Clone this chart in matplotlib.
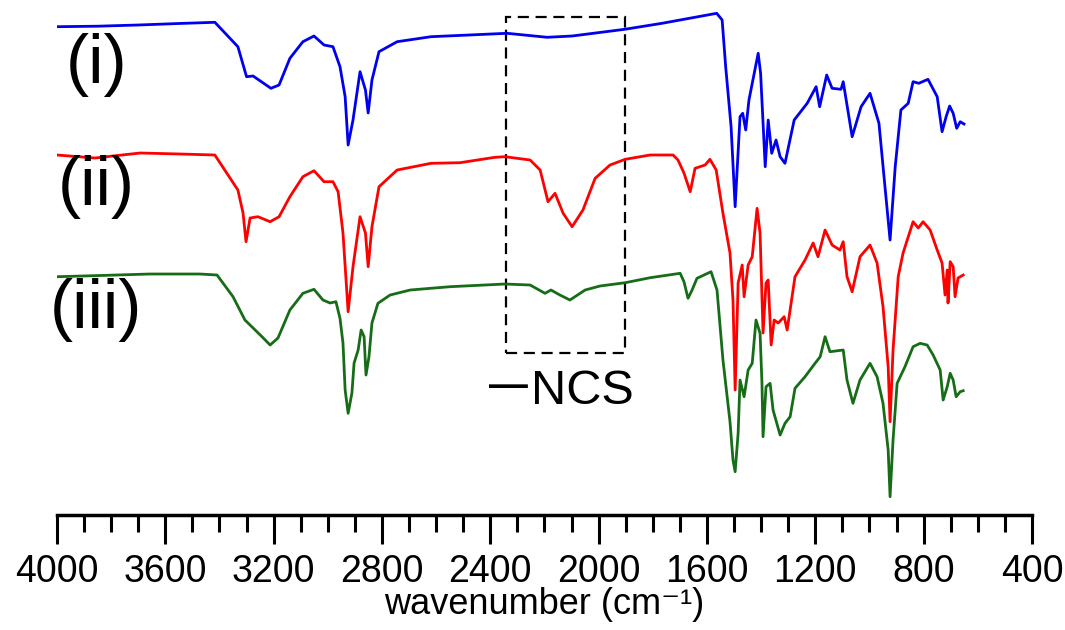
import matplotlib
matplotlib.use("Agg")
import matplotlib.pyplot as plt
from matplotlib.patches import Rectangle
from matplotlib.ticker import MultipleLocator

plt.rcParams['font.family'] = ['Liberation Sans', 'DejaVu Sans']

# Spectrum (i) - wavenumber (cm-1) and stacked intensity (a.u.)
wn_i = [4000, 3850, 3700, 3550, 3417, 3332, 3300, 3276, 3210, 3180, 3140, 3092, 3051, 3014,
        2981, 2955, 2936, 2925, 2907, 2881, 2861, 2851, 2837, 2811, 2744, 2619, 2338, 2190,
        2098, 1904, 1766, 1564, 1544, 1531, 1511, 1496, 1478, 1468, 1457, 1445, 1411, 1402,
        1385, 1374, 1361, 1345, 1330, 1312, 1278, 1230, 1197, 1184, 1158, 1138, 1105, 1097,
        1064, 1031, 998, 965, 944, 924, 905, 884, 857, 839, 818, 784, 750, 732, 717, 704,
        691, 678, 665, 651]
y_i = [488.3, 488.8, 490.0, 491.5, 492.7, 468.3, 438.3, 439.0, 426.7, 430.0, 456.7, 473.3,
       479.0, 470.0, 468.3, 448.3, 418.3, 370.0, 395.0, 443.3, 425.0, 402.0, 435.0, 463.3,
       473.3, 478.3, 481.7, 477.7, 479.0, 485.7, 491.7, 501.7, 495.0, 448.3, 388.3, 308.3,
       398.3, 401.7, 385.0, 415.0, 461.7, 441.7, 348.3, 395.0, 361.7, 375.0, 358.3, 351.7,
       395.0, 411.7, 428.3, 408.3, 440.0, 426.7, 425.7, 433.3, 378.3, 408.3, 421.7, 391.7,
       331.7, 275.0, 348.3, 405.0, 411.7, 433.3, 431.7, 435.7, 418.3, 383.3, 398.3, 409.0,
       401.7, 386.7, 393.3, 391.0]

# Spectrum (ii)
wn_ii = [4000, 3860, 3693, 3546, 3417, 3332, 3313, 3302, 3287, 3258, 3213, 3180, 3140, 3092,
         3051, 3014, 2981, 2962, 2944, 2925, 2907, 2881, 2861, 2851, 2837, 2811, 2744, 2619,
         2512, 2383, 2346, 2253, 2216, 2187, 2161, 2131, 2098, 2058, 2013, 1958, 1902, 1810,
         1725, 1707, 1685, 1662, 1644, 1607, 1589, 1566, 1541, 1515, 1504, 1496, 1485, 1470,
         1463, 1448, 1433, 1415, 1404, 1393, 1382, 1374, 1363, 1352, 1337, 1315, 1304, 1275,
         1238, 1208, 1190, 1164, 1138, 1109, 1097, 1083, 1064, 1035, 998, 972, 950, 931, 924,
         913, 894, 876, 839, 820, 802, 776, 750, 732, 721, 713, 710, 702, 691, 684, 673, 654]
y_ii = [360.0, 357.0, 362.0, 361.0, 360.0, 325.0, 302.0, 273.3, 297.0, 298.3, 293.3, 298.3,
        318.3, 338.3, 344.3, 333.3, 333.3, 323.3, 282.0, 203.3, 248.3, 298.3, 282.0, 248.3,
        288.3, 328.3, 345.0, 351.7, 352.3, 357.7, 358.3, 355.0, 345.0, 313.3, 321.7, 301.7,
        288.3, 305.0, 336.7, 350.0, 355.7, 360.0, 360.0, 355.0, 342.0, 323.3, 346.7, 350.0,
        355.7, 345.0, 301.7, 262.0, 215.0, 125.0, 232.0, 250.0, 218.3, 250.0, 258.3, 306.7,
        281.7, 182.0, 232.0, 235.0, 170.0, 195.0, 192.0, 198.3, 185.0, 238.3, 255.0, 272.0,
        258.3, 285.0, 270.0, 265.0, 273.3, 238.3, 223.3, 258.3, 270.0, 252.0, 208.3, 148.3,
        93.3, 165.0, 238.3, 262.0, 293.3, 287.0, 293.3, 285.0, 265.0, 252.0, 220.0, 245.0,
        212.0, 253.3, 248.3, 218.3, 237.0, 240.0]

# Spectrum (iii)
wn_iii = [4000, 3841, 3657, 3472, 3409, 3350, 3306, 3243, 3213, 3184, 3140, 3092, 3051, 3018,
          2992, 2970, 2955, 2944, 2936, 2925, 2911, 2903, 2888, 2877, 2866, 2859, 2848, 2837,
          2815, 2770, 2696, 2549, 2346, 2253, 2198, 2176, 2143, 2106, 2050, 1995, 1902, 1810,
          1699, 1685, 1670, 1655, 1637, 1585, 1563, 1541, 1515, 1504, 1496, 1485, 1478, 1463,
          1448, 1433, 1419, 1404, 1397, 1393, 1382, 1367, 1356, 1330, 1312, 1293, 1275, 1238,
          1201, 1182, 1164, 1146, 1097, 1083, 1061, 1035, 998, 972, 950, 931, 924, 913, 898,
          869, 839, 813, 787, 765, 739, 728, 713, 702, 691, 680, 665, 654]
y_iii = [238.3, 239.5, 241.0, 241.0, 240.0, 218.3, 195.0, 178.3, 170.0, 177.0, 205.0, 221.7,
         225.7, 215.0, 212.0, 213.3, 196.7, 172.0, 125.0, 101.7, 122.0, 152.0, 165.0, 185.0,
         178.3, 140.0, 158.3, 192.0, 211.7, 220.0, 225.0, 228.3, 231.0, 230.0, 221.7, 225.0,
         220.0, 215.0, 225.0, 229.0, 232.3, 237.3, 241.7, 233.3, 216.7, 225.0, 236.7, 243.3,
         225.0, 155.0, 93.3, 55.0, 43.3, 81.7, 135.0, 118.3, 145.0, 151.7, 195.0, 181.7,
         132.0, 78.3, 128.3, 131.7, 105.0, 80.0, 91.7, 98.3, 126.7, 138.3, 151.7, 158.3,
         178.3, 163.3, 165.0, 135.0, 111.7, 135.0, 151.7, 138.3, 111.7, 65.0, 18.3, 75.0,
         131.7, 148.3, 168.3, 171.7, 170.0, 160.0, 145.0, 115.0, 128.3, 141.7, 135.0, 118.3,
         123.3, 124.3]

labels = ['(i)', '(ii)', '(iii)']
label_y = [450, 328, 205]
colors = ['#0000ee', '#ff0000', '#176d17']

# NCS region marked on the plot
box_wn = (2343, 1903)
box_y = (162, 498)

fig = plt.figure(figsize=(10.65, 6.3), dpi=100)
ax = fig.add_axes([0.0535, 0.1825, 0.9155, 0.8175])

for wn, y, c in zip([wn_i, wn_ii, wn_iii], [y_i, y_ii, y_iii], colors):
    ax.plot(wn, y, color=c, lw=2.0)

for lab, ly in zip(labels, label_y):
    ax.text(3855, ly, lab, fontsize=50, ha='center', va='center')

ax.add_patch(Rectangle((box_wn[0], box_y[0]), box_wn[1] - box_wn[0], box_y[1] - box_y[0],
                       fill=False, ls=(0, (5, 3)), lw=1.6, ec='black'))
ax.text(2262, 128, '\u2014', fontsize=28, fontweight='bold', ha='right', va='center')
ax.text(2250, 124, 'NCS', fontsize=35, ha='left', va='center')

ax.set_xlim(4000, 400)
ax.set_ylim(0, 515)
ax.xaxis.set_major_locator(MultipleLocator(400))
ax.xaxis.set_minor_locator(MultipleLocator(100))
ax.tick_params(axis='x', which='major', direction='out', length=21, width=2.2,
               labelsize=27, pad=7)
ax.tick_params(axis='x', which='minor', direction='out', length=12, width=2.2)
ax.set_yticks([])
for s in ['left', 'right', 'top']:
    ax.spines[s].set_visible(False)
ax.spines['bottom'].set_linewidth(2.5)
ax.set_xlabel('wavenumber (cm\u207b\u00b9)', fontsize=26, labelpad=-2)

fig.savefig('out.png', dpi=100)
